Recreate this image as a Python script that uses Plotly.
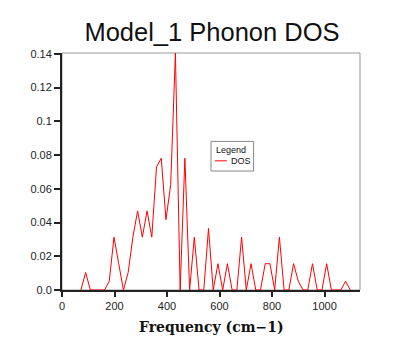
import plotly.graph_objects as go

frequency = [72, 90, 108, 126, 144, 162, 180, 198, 216, 234, 252, 270, 288, 306, 324, 342,
             360, 378, 396, 414, 432, 450, 468, 486, 504, 522, 540, 558, 576, 594, 612, 630,
             648, 666, 684, 702, 720, 738, 756, 774, 792, 810, 828, 846, 864, 882, 900, 918,
             936, 954, 972, 990, 1008, 1026, 1044, 1062, 1080, 1098]
dos = [0.0, 0.0104, 0.0, 0.0, 0.0, 0.0, 0.0052, 0.0313, 0.0156, 0.0, 0.0104, 0.0313,
       0.0469, 0.0313, 0.0469, 0.0313, 0.0729, 0.0781, 0.0417, 0.0625, 0.1406, 0.0, 0.0781,
       0.0, 0.0313, 0.0, 0.0, 0.0365, 0.0, 0.0156, 0.0, 0.0156, 0.0, 0.0, 0.0313, 0.0,
       0.0156, 0.0, 0.0, 0.0156, 0.0156, 0.0, 0.0313, 0.0, 0.0, 0.0156, 0.0052, 0.0, 0.0,
       0.0156, 0.0, 0.0, 0.0156, 0.0, 0.0, 0.0, 0.0052, 0.0]

y_tickvals = [0, 0.02, 0.04, 0.06, 0.08, 0.1, 0.12, 0.14]
y_ticktext = ["0.0", "0.02", "0.04", "0.06", "0.08", "0.1", "0.12", "0.14"]
x_tickvals = [0, 200, 400, 600, 800, 1000]

fig = go.Figure()
fig.add_trace(go.Scatter(x=frequency, y=dos, mode="lines", name="DOS",
                         line=dict(color="#ff0000", width=1), showlegend=False))

tick_font = dict(family="Liberation Sans, Arial, sans-serif", size=11, color="#222222")
fig.update_layout(
    width=400, height=346,
    margin=dict(l=62, r=40, t=53, b=56),
    paper_bgcolor="white", plot_bgcolor="white",
    title=dict(text="Model_1 Phonon DOS", x=0.53, xanchor="center",
               y=1 - 32 / 346, yanchor="middle", yref="container",
               font=dict(family="Liberation Sans, Arial, sans-serif", size=25.5, color="#111111")),
    xaxis=dict(range=[0, 1135], tickvals=x_tickvals, ticks="outside", ticklen=5, tickwidth=2,
               tickcolor="#222222", showline=True, linecolor="#222222", linewidth=2,
               showgrid=False, zeroline=False, tickfont=tick_font),
    yaxis=dict(range=[0, 0.1405], tickvals=y_tickvals, ticktext=y_ticktext, ticks="outside",
               ticklen=6, tickwidth=2, tickcolor="#222222", showline=True, linecolor="#222222",
               linewidth=2, showgrid=False, zeroline=False, tickfont=tick_font),
    shapes=[
        dict(type="rect", xref="paper", yref="paper", x0=0, x1=1, y0=0, y1=1,
             line=dict(color="#999999", width=1), layer="below"),
        # legend box
        dict(type="rect", xref="paper", yref="paper", x0=0.5, x1=0.643, y0=0.502, y1=0.627,
             line=dict(color="#888888", width=1), fillcolor="white", layer="above"),
        dict(type="line", xref="paper", yref="paper", x0=0.513, x1=0.553, y0=0.545, y1=0.545,
             line=dict(color="#ff0000", width=1), layer="above"),
    ],
    annotations=[
        dict(text="Frequency (cm\u22121)", xref="paper", yref="paper", x=0.5, y=-0.155,
             xanchor="center", yanchor="middle", showarrow=False,
             font=dict(family="DejaVu Serif, serif", size=14, color="#111111", weight="bold")),
        dict(text="Legend", xref="paper", yref="paper", x=0.51, y=0.59,
             xanchor="left", yanchor="middle", showarrow=False,
             font=dict(family="Liberation Sans, Arial, sans-serif", size=9, color="#111111")),
        dict(text="DOS", xref="paper", yref="paper", x=0.56, y=0.545,
             xanchor="left", yanchor="middle", showarrow=False,
             font=dict(family="Liberation Sans, Arial, sans-serif", size=9, color="#111111")),
    ],
)

fig.write_html("out.html")
